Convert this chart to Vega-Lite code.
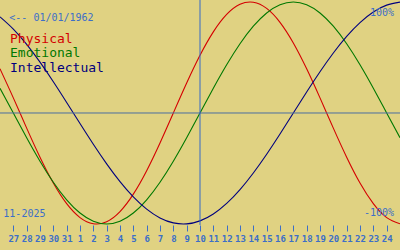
{
  "$schema": "https://vega.github.io/schema/vega-lite/v6.json",
  "width": 400,
  "height": 225,
  "padding": {"left": 0, "top": 0, "right": 0, "bottom": 25},
  "autosize": {"type": "none"},
  "background": "#E0D282",
  "config": {
    "view": {"stroke": null},
    "font": "DejaVu Sans Mono",
    "axis": {"labelOverlap": false, "labelSeparation": 0}
  },
  "datasets": {
    "bio": [
      {"d": -15, "Physical": 0.3984, "Emotional": 0.2225, "Intellectual": 0.8660},
      {"d": -14, "Physical": 0.1362, "Emotional": 0, "Intellectual": 0.7557},
      {"d": -13, "Physical": -0.1362, "Emotional": -0.2225, "Intellectual": 0.6182},
      {"d": -12, "Physical": -0.3984, "Emotional": -0.4339, "Intellectual": 0.4582},
      {"d": -11, "Physical": -0.6311, "Emotional": -0.6235, "Intellectual": 0.2817},
      {"d": -10, "Physical": -0.8170, "Emotional": -0.7818, "Intellectual": 0.0951},
      {"d": -9, "Physical": -0.9423, "Emotional": -0.9010, "Intellectual": -0.0951},
      {"d": -8, "Physical": -0.9977, "Emotional": -0.9749, "Intellectual": -0.2817},
      {"d": -7, "Physical": -0.9791, "Emotional": -1, "Intellectual": -0.4582},
      {"d": -6, "Physical": -0.8879, "Emotional": -0.9749, "Intellectual": -0.6182},
      {"d": -5, "Physical": -0.7308, "Emotional": -0.9010, "Intellectual": -0.7557},
      {"d": -4, "Physical": -0.5196, "Emotional": -0.7818, "Intellectual": -0.8660},
      {"d": -3, "Physical": -0.2698, "Emotional": -0.6235, "Intellectual": -0.9450},
      {"d": -2, "Physical": 0, "Emotional": -0.4339, "Intellectual": -0.9898},
      {"d": -1, "Physical": 0.2698, "Emotional": -0.2225, "Intellectual": -0.9989},
      {"d": 0, "Physical": 0.5196, "Emotional": 0, "Intellectual": -0.9718},
      {"d": 1, "Physical": 0.7308, "Emotional": 0.2225, "Intellectual": -0.9096},
      {"d": 2, "Physical": 0.8879, "Emotional": 0.4339, "Intellectual": -0.8146},
      {"d": 3, "Physical": 0.9791, "Emotional": 0.6235, "Intellectual": -0.6901},
      {"d": 4, "Physical": 0.9977, "Emotional": 0.7818, "Intellectual": -0.5406},
      {"d": 5, "Physical": 0.9423, "Emotional": 0.9010, "Intellectual": -0.3717},
      {"d": 6, "Physical": 0.8170, "Emotional": 0.9749, "Intellectual": -0.1893},
      {"d": 7, "Physical": 0.6311, "Emotional": 1, "Intellectual": 0},
      {"d": 8, "Physical": 0.3984, "Emotional": 0.9749, "Intellectual": 0.1893},
      {"d": 9, "Physical": 0.1362, "Emotional": 0.9010, "Intellectual": 0.3717},
      {"d": 10, "Physical": -0.1362, "Emotional": 0.7818, "Intellectual": 0.5406},
      {"d": 11, "Physical": -0.3984, "Emotional": 0.6235, "Intellectual": 0.6901},
      {"d": 12, "Physical": -0.6311, "Emotional": 0.4339, "Intellectual": 0.8146},
      {"d": 13, "Physical": -0.8170, "Emotional": 0.2225, "Intellectual": 0.9096},
      {"d": 14, "Physical": -0.9423, "Emotional": 0, "Intellectual": 0.9718},
      {"d": 15, "Physical": -0.9977, "Emotional": -0.2225, "Intellectual": 0.9989}
    ],
    "refs": [{"d": 0, "v": 0}],
    "legendRows": [
      {"d": -14.25, "v": 0.631, "series": "Physical"},
      {"d": -14.25, "v": 0.504, "series": "Emotional"},
      {"d": -14.25, "v": 0.369, "series": "Intellectual"}
    ],
    "notesLeft": [
      {"d": -14.3, "v": 0.829, "t": "<-- 01/01/1962"},
      {"d": -14.75, "v": -0.937, "t": "11-2025"}
    ],
    "notesRight": [
      {"d": 14.55, "v": 0.874, "t": "100%"},
      {"d": 14.55, "v": -0.928, "t": "-100%"}
    ]
  },
  "encoding": {
    "x": {
      "field": "d", "type": "quantitative", "scale": {"domain": [-15, 15], "nice": false, "zero": false},
      "axis": {
        "values": [-14, -13, -12, -11, -10, -9, -8, -7, -6, -5, -4, -3, -2, -1, 0, 1, 2, 3, 4, 5, 6, 7, 8, 9, 10, 11, 12, 13, 14],
        "labelExpr": "datum.value < -9 ? datum.value + 41 : datum.value + 10",
        "domain": false, "grid": false, "title": null,
        "tickColor": "#3c6ec8", "tickSize": 6, "tickWidth": 1,
        "labelColor": "#3c6ec8", "labelFont": "DejaVu Sans Mono", "labelFontSize": 9, "labelFontWeight": "bold",
        "labelPadding": 3, "labelOverlap": false, "labelSeparation": 0, "labelBound": false, "labelFlush": false
      }
    },
    "y": {"field": "v", "type": "quantitative", "scale": {"domain": [-1.009, 1.018], "nice": false, "zero": false}, "axis": null}
  },
  "layer": [
    {
      "data": {"name": "bio"},
      "transform": [{"fold": ["Physical", "Emotional", "Intellectual"], "as": ["series", "v"]}],
      "mark": {"type": "line", "interpolate": "natural", "strokeWidth": 1.1},
      "encoding": {
        "color": {
          "field": "series", "type": "nominal",
          "scale": {"domain": ["Physical", "Emotional", "Intellectual"], "range": ["#d40000", "#007800", "#00007e"]},
          "legend": null
        },
        "order": {"field": "d"}
      }
    },
    {
      "data": {"name": "refs"},
      "mark": {"type": "rule", "color": "#4a6ea0", "strokeWidth": 1},
      "encoding": {
        "x": {"datum": -15},
        "x2": {"datum": 15}
      }
    },
    {
      "data": {"name": "refs"},
      "mark": {"type": "rule", "color": "#3468c8", "strokeWidth": 1},
      "encoding": {
        "y": {"datum": -1.009},
        "y2": {"datum": 1.018}
      }
    },
    {
      "data": {"name": "legendRows"},
      "mark": {"type": "text", "align": "left", "baseline": "alphabetic", "fontSize": 13, "font": "DejaVu Sans Mono"},
      "encoding": {
        "text": {"field": "series"},
        "color": {"field": "series", "type": "nominal", "legend": null}
      }
    },
    {
      "data": {"name": "notesLeft"},
      "mark": {"type": "text", "align": "left", "baseline": "alphabetic", "fontSize": 10, "font": "DejaVu Sans Mono", "color": "#3c6ec8"},
      "encoding": {
        "text": {"field": "t"}
      }
    },
    {
      "data": {"name": "notesRight"},
      "mark": {"type": "text", "align": "right", "baseline": "alphabetic", "fontSize": 10, "font": "DejaVu Sans Mono", "color": "#3c6ec8"},
      "encoding": {
        "text": {"field": "t"}
      }
    }
  ]
}
